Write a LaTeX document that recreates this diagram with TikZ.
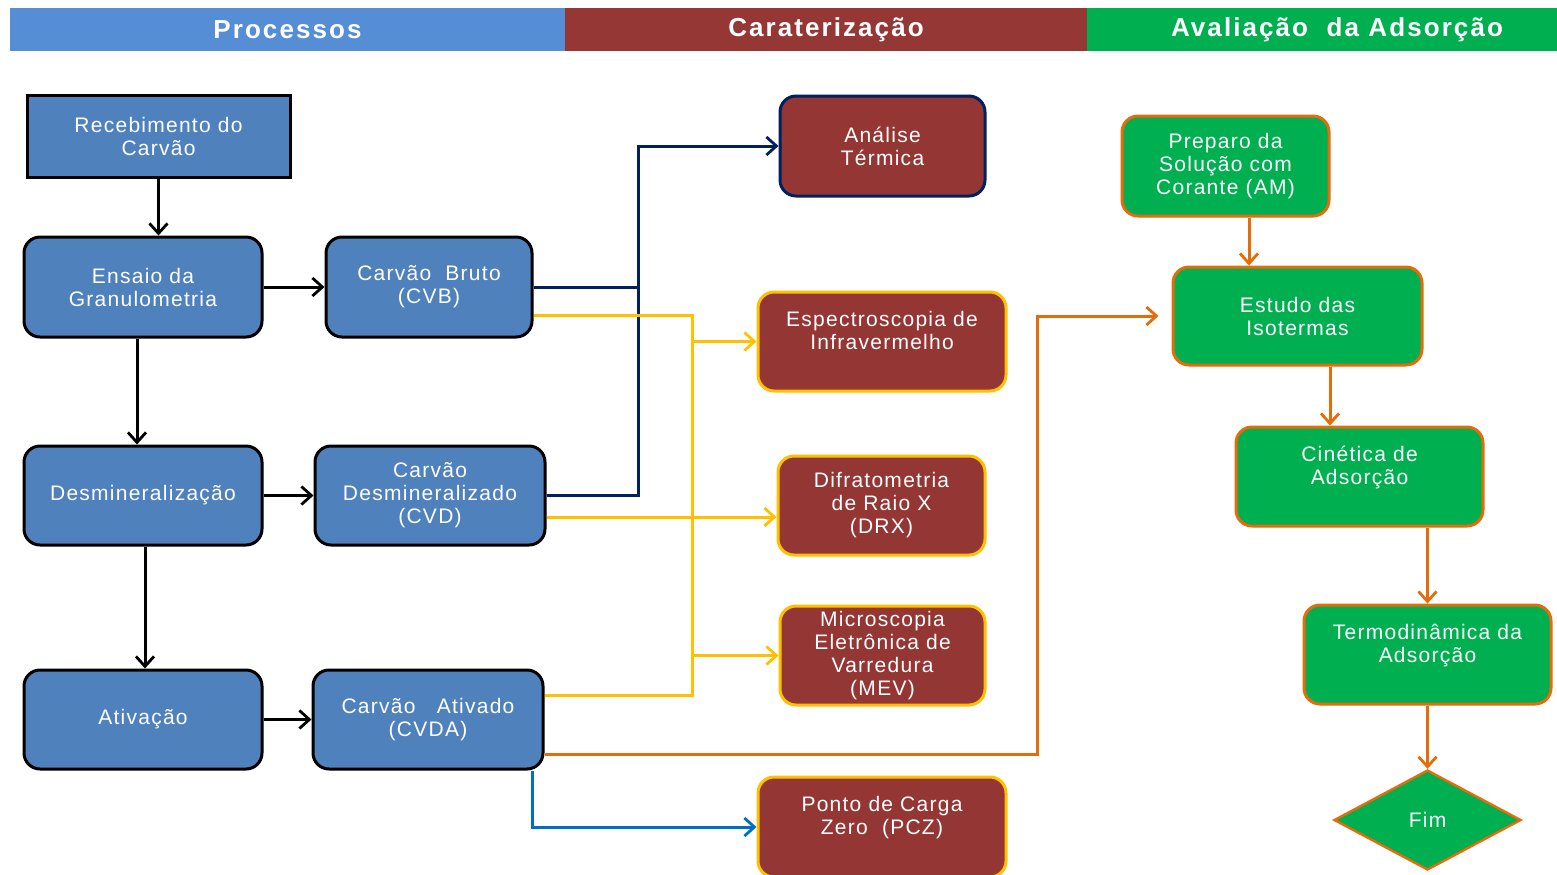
\documentclass[tikz,border=0pt]{standalone}
\usepackage{fontspec}
\setmainfont{Liberation Sans}
\newfontfamily\boxfamily[LetterSpace=6]{Liberation Sans}
\newfontfamily\headfamily[LetterSpace=8]{Liberation Sans}
\usetikzlibrary{shapes.geometric,arrows.meta}
\definecolor{hblue}{HTML}{558ED5}
\definecolor{hred}{HTML}{953735}
\definecolor{hgreen}{HTML}{00B050}
\definecolor{pblue}{HTML}{4F81BD}
\definecolor{cred}{HTML}{943634}
\definecolor{ggreen}{HTML}{00B050}
\definecolor{navyc}{HTML}{002060}
\definecolor{yelc}{HTML}{FFC000}
\definecolor{orgc}{HTML}{E46C0A}
\definecolor{bluc}{HTML}{0070C0}
\tikzset{
  bx/.style={text=white, align=center, inner sep=0pt, line width=1.5pt,
    font=\boxfamily\fontsize{10.5}{11.5}\selectfont},
  pbox/.style={bx, fill=pblue, draw=black, rounded corners=8pt},
  sqbox/.style={bx, fill=pblue, draw=black},
  cbox/.style={bx, fill=cred, draw=yelc, rounded corners=8pt},
  gbox/.style={bx, fill=ggreen, draw=orgc, rounded corners=8pt},
  hbar/.style={text=white, inner sep=0pt, minimum height=21.5pt,
    font=\headfamily\bfseries\fontsize{13}{14}\selectfont},
  arr/.style={-{Straight Barb[length=5pt,width=9pt,line width=1.4pt]}},
  conn/.style={line width=1.5pt},
  blk/.style={conn, draw=black},
  nav/.style={conn, draw=navyc},
  yel/.style={conn, draw=yelc},
  org/.style={conn, draw=orgc},
  blu/.style={conn, draw=bluc},
}
\begin{document}
\begin{tikzpicture}[x=0.5pt,y=-0.5pt]
\useasboundingbox (0,0) rectangle (1557,874);
% header
\node[hbar, fill=hblue, minimum width=277.5pt] (h1) at (287.5,29.5) {Processos};
\node[hbar, fill=hred, minimum width=261pt] (h2) at (826,29.5) {Caraterização};
\node[hbar, fill=hgreen, minimum width=235pt] (h3) at (1322,29.5) {\hspace*{15pt}Avaliação\ \ da Adsorção};
% processes
\node[sqbox, minimum width=131.5pt, minimum height=41pt] (rec) at (158.5,136) {Recebimento do\\Carvão};
\node[pbox, minimum width=119pt, minimum height=50pt] (ens) at (143,287) {Ensaio da\\Granulometria};
\node[pbox, minimum width=103pt, minimum height=50pt] (cvb) at (429,287) {Carvão\ \ Bruto\\(CVB)};
\node[pbox, minimum width=119pt, minimum height=49.5pt] (des) at (143,495.5) {Desmineralização};
\node[pbox, minimum width=115pt, minimum height=49.5pt] (cvd) at (430,495.5) {Carvão\\Desmineralizado\\(CVD)};
\node[pbox, minimum width=119pt, minimum height=49.5pt] (ati) at (143,719.5) {Ativação};
\node[pbox, minimum width=115pt, minimum height=49.5pt] (cvda) at (428,719.5) {Carvão\ \ \ Ativado\\(CVDA)};
% characterisation
\node[cbox, draw=navyc, minimum width=102.5pt, minimum height=50pt] (ana) at (882.5,146) {Análise\\Térmica};
\node[cbox, minimum width=124pt, minimum height=49.5pt] (esp) at (882,341.5) {Espectroscopia de\\Infravermelho\\\mbox{}};
\node[cbox, minimum width=103.5pt, minimum height=49.5pt] (dif) at (881.5,505.5) {Difratometria\\de Raio\ X\\(DRX)};
\node[cbox, minimum width=102.5pt, minimum height=49.5pt] (mic) at (882.5,655.5) {Microscopia\\Eletrônica de\\Varredura\\(MEV)};
\node[cbox, minimum width=124pt, minimum height=50pt] (pcz) at (882,827) {Ponto de Carga\\Zero\ \ (PCZ)\\\mbox{}};
% adsorption
\node[gbox, minimum width=103.5pt, minimum height=50pt] (pre) at (1225.5,166) {Preparo\ da\\Solução com\\Corante\ (AM)};
\node[gbox, minimum width=124.5pt, minimum height=49pt] (est) at (1297.5,316) {Estudo das\\Isotermas};
\node[gbox, minimum width=123.5pt, minimum height=49.5pt] (cin) at (1359.5,476.5) {Cinética de\\Adsorção\\\mbox{}};
\node[gbox, minimum width=123.5pt, minimum height=49.5pt] (ter) at (1427.5,654.5) {Termodinâmica\ da\\Adsorção\\\mbox{}};
\node[bx, diamond, fill=ggreen, draw=orgc, line width=1.2pt, aspect=1.87, minimum width=93.5pt, minimum height=50pt] (fim) at (1427.5,820) {Fim};
% black connectors
\draw[blk,arr] (rec.south) -- (rec.south |- ens.north);
\draw[blk,arr] (ens.east) -- (cvb.west);
\draw[blk,arr] ([xshift=-3pt]ens.south) -- ([xshift=-3pt]ens.south |- des.north);
\draw[blk,arr] ([xshift=1pt]des.south) -- ([xshift=1pt]des.south |- ati.north);
\draw[blk,arr] (des.east) -- (cvd.west);
\draw[blk,arr] (ati.east) -- (cvda.west);
% navy
\coordinate (nv) at (638,146);
\draw[nav] (cvb.east) -- (cvb.east -| nv);
\draw[nav,arr] (cvd.east) -| (nv) -- (ana.west);
% yellow
\coordinate (y1) at (692,315);
\coordinate (y2) at (692,695);
\draw[yel] ([yshift=-14pt]cvb.east) -- (y1) -- (y2) -- ([yshift=12.25pt]cvda.east);
\draw[yel,arr] (y1 |- esp.west) -- (esp.west);
\draw[yel,arr] (y1 |- mic.west) -- (mic.west);
\draw[yel,arr] ([yshift=-10.75pt]cvd.east) -- ([yshift=-10.75pt]cvd.east -| dif.west);
% orange
\coordinate (o1) at (1037,316);
\draw[org,arr] ([yshift=-17.25pt]cvda.east) -| (o1) -- ([xshift=-6.5pt]est.west);
% blue
\draw[blu,arr] ([xshift=52pt]cvda.south) |- (pcz.west);
% adsorption chain
\draw[org,arr] ([xshift=11.75pt]pre.south) -- ([xshift=11.75pt]pre.south |- est.north);
\draw[org,arr] ([xshift=16.25pt]est.south) -- ([xshift=16.25pt]est.south |- cin.north);
\draw[org,arr] (ter.north |- cin.south) -- (ter.north);
\draw[org,arr] (ter.south) -- (fim.north);
\end{tikzpicture}
\end{document}
